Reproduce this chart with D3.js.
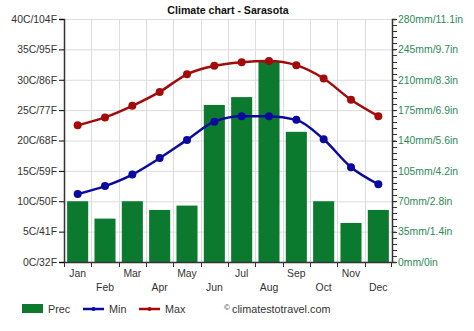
<!DOCTYPE html>
<html><head><meta charset="utf-8">
<script src="https://cdn.jsdelivr.net/npm/d3@7"></script>
<style>body{margin:0;background:#fff;font-family:"Liberation Sans",Arial,sans-serif;}</style>
</head><body><svg id="c" width="474" height="331"></svg>
<script>
const months = ["Jan","Feb","Mar","Apr","May","Jun","Jul","Aug","Sep","Oct","Nov","Dec"];
const prec = [70, 50, 70, 60, 65, 181, 190, 231, 150, 70, 45, 60];
const tMin = [11.2, 12.5, 14.4, 17.1, 20.1, 23.1, 24.0, 24.0, 23.4, 20.2, 15.6, 12.8];
const tMax = [22.5, 23.8, 25.7, 28.0, 30.9, 32.3, 32.9, 33.1, 32.4, 30.2, 26.7, 24.0];
const tempTicks = [0,5,10,15,20,25,30,35,40];
const tempLabels = ["0C/32F","5C/41F","10C/50F","15C/59F","20C/68F","25C/77F","30C/86F","35C/95F","40C/104F"];
const precTicks = [0,35,70,105,140,175,210,245,280];
const precLabels = ["0mm/0in","35mm/1.4in","70mm/2.8in","105mm/4.2in","140mm/5.6in","175mm/6.9in","210mm/8.3in","245mm/9.7in","280mm/11.1in"];

const svg = d3.select("#c");
const L = 64, R = 392, T = 19, B = 262;
const x = d3.scaleBand().domain(months).range([L, R]).paddingInner(0.23).paddingOuter(0.115);
const xb = d3.scaleBand().domain(months).range([L, R]);
const yT = d3.scaleLinear().domain([0,40]).range([B, T]);
const yP = d3.scaleLinear().domain([0,280]).range([B, T]);

// grid
const g = svg.append("g");
g.selectAll(".hg").data(tempTicks.slice(1)).join("line")
  .attr("x1", L).attr("x2", R).attr("y1", d=>yT(d)+0.5).attr("y2", d=>yT(d)+0.5)
  .attr("stroke", "#dcdcdc").attr("stroke-width", 1);
g.selectAll(".vg").data(months.slice(1)).join("line")
  .attr("x1", d=>Math.round(xb(d))+0.5).attr("x2", d=>Math.round(xb(d))+0.5).attr("y1", T).attr("y2", B)
  .attr("stroke", "#dcdcdc").attr("stroke-width", 1);

// bars
svg.selectAll(".bar").data(prec).join("rect")
  .attr("x", (d,i)=>x(months[i])).attr("width", x.bandwidth())
  .attr("y", d=>yP(d)).attr("height", d=>B-yP(d))
  .attr("fill", "#0b7a2e");

// lines
const cx = (d,i)=>xb(months[i]) + xb.bandwidth()/2;
function series(data, color){
  svg.append("path").datum(data)
    .attr("d", d3.line().x(cx).y(d=>yT(d)).curve(d3.curveMonotoneX))
    .attr("fill","none").attr("stroke",color).attr("stroke-width",2.5);
  svg.append("g").selectAll("circle").data(data).join("circle")
    .attr("cx", cx).attr("cy", d=>yT(d)).attr("r", 4).attr("fill", color);
}
series(tMax, "#a30b0b");
series(tMin, "#0a0aa0");

// left axis
const la = svg.append("g").attr("transform", `translate(${L},0)`)
  .call(d3.axisLeft(yT).tickValues(tempTicks).tickFormat((d,i)=>tempLabels[i]).tickSize(5).tickPadding(2));
la.select(".domain").attr("stroke","#333").attr("stroke-width",1.5);
la.selectAll("text").attr("font-size","10.4px").attr("fill","#333").attr("font-family","Liberation Sans, Arial");

// right axis
const ra = svg.append("g").attr("transform", `translate(${R},0)`)
  .call(d3.axisRight(yP).tickValues(precTicks).tickFormat((d,i)=>precLabels[i]).tickSize(4).tickPadding(2));
ra.select(".domain").attr("stroke","#333").attr("stroke-width",1.5);
ra.selectAll("text").attr("font-size","10.4px").attr("fill","#2e8b57").attr("font-family","Liberation Sans, Arial");
ra.selectAll(".tick line").attr("stroke","#333");
svg.append("g").selectAll("line").data(d3.range(0,281,7)).join("line")
  .attr("x1", R).attr("x2", R+5).attr("y1", d=>Math.round(yP(d))+0.5).attr("y2", d=>Math.round(yP(d))+0.5)
  .attr("stroke","#333");

// bottom axis
const ba = svg.append("g").attr("transform", `translate(0,${B})`);
ba.append("line").attr("x1",L).attr("x2",R).attr("y1",0.5).attr("y2",0.5).attr("stroke","#333").attr("stroke-width",1.5);
ba.selectAll(".bt").data(months).join("line")
  .attr("x1", d=>Math.round(xb(d))+0.5).attr("x2", d=>Math.round(xb(d))+0.5).attr("y1",0).attr("y2",5)
  .attr("stroke","#333");
ba.append("line").attr("x1",R-0.5).attr("x2",R-0.5).attr("y1",0).attr("y2",5).attr("stroke","#333");
ba.selectAll("text").data(months).join("text")
  .attr("x", d=>xb(d)+xb.bandwidth()/2).attr("y",(d,i)=> i%2===0 ? 15 : 29)
  .attr("text-anchor","middle").attr("font-size","10.4px").attr("fill","#333").text(d=>d);

// title
svg.append("text").attr("x",228).attr("y",14).attr("text-anchor","middle")
  .attr("font-size","10.6px").attr("font-weight","bold").attr("fill","#111").text("Climate chart - Sarasota");

// legend
const lg = svg.append("g").attr("font-size","10.8px").attr("fill","#333");
lg.append("rect").attr("x",22).attr("y",304).attr("width",21).attr("height",9).attr("fill","#0b7a2e");
lg.append("text").attr("x",48).attr("y",313).attr("fill","#333").text("Prec");
lg.append("line").attr("x1",83).attr("x2",104).attr("y1",309).attr("y2",309).attr("stroke","#0a0aa0").attr("stroke-width",2.5);
lg.append("circle").attr("cx",93.5).attr("cy",309).attr("r",2).attr("fill","#0a0aa0");
lg.append("text").attr("x",109).attr("y",313).attr("fill","#333").text("Min");
lg.append("line").attr("x1",139).attr("x2",160).attr("y1",309).attr("y2",309).attr("stroke","#a30b0b").attr("stroke-width",2.5);
lg.append("circle").attr("cx",149.5).attr("cy",309).attr("r",2).attr("fill","#a30b0b");
lg.append("text").attr("x",165).attr("y",313).attr("fill","#333").text("Max");
lg.append("text").attr("x",224).attr("y",310).attr("font-size","8px").attr("fill","#333").text("©");
lg.append("text").attr("x",232).attr("y",313).attr("fill","#333").text("climatestotravel.com");
</script></body></html>
